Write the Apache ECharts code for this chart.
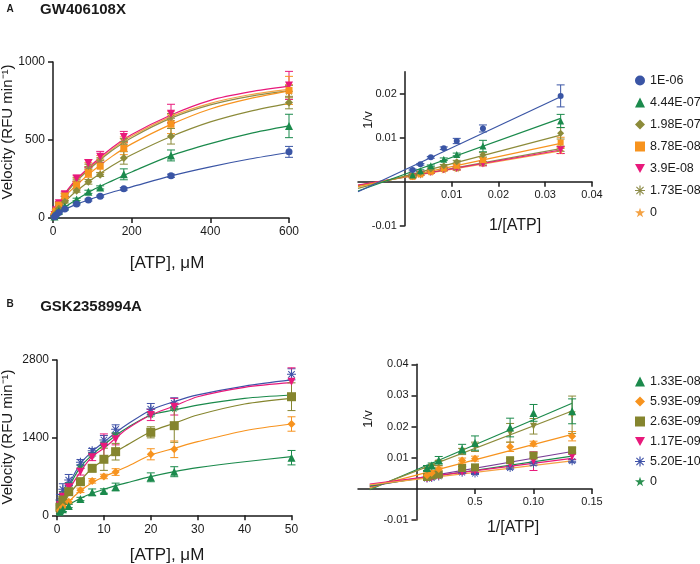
<!DOCTYPE html>
<html lang="en">
<head>
<meta charset="UTF-8">
<title>ATP kinetics</title>
<script src="https://cdn.jsdelivr.net/npm/echarts/dist/echarts.min.js"></script>
</head>
<body style="margin:0;background:#fff">
<div id="main" style="width:700px;height:564px;"></div>
<script type="text/javascript">
// ---------- panel A (GW406108X) ----------
var atpA = [3.75, 7.5, 15, 30, 60, 90, 120, 180, 300, 600];
var namesA = ['1E-06', '4.44E-07', '1.98E-07', '8.78E-08', '3.9E-08', '1.73E-08', '0'];
var velA1 = [8, 17, 36, 58, 90, 115, 140, 187, 271, 424];
var velA2 = [10, 22, 45, 72, 119, 168, 196, 280, 401, 590];
var velA3 = [12, 30, 60, 104, 175, 232, 278, 385, 524, 740];
var velA4 = [18, 45, 83, 141, 211, 286, 332, 446, 601, 818];
var velA5 = [20, 50, 94, 153, 254, 350, 392, 520, 669, 850];
var velA6 = [20, 48, 90, 148, 245, 330, 370, 490, 640, 810];
var velA7 = [20, 48, 90, 150, 250, 340, 385, 500, 655, 815];
var errA1 = [3, 3, 4, 5, 6, 6, 6, 8, 10, 35];
var errA2 = [4, 5, 5, 6, 8, 10, 10, 35, 35, 75];
var errA3 = [4, 5, 6, 8, 10, 15, 12, 40, 50, 40];
var errA4 = [5, 8, 12, 15, 20, 25, 40, 40, 60, 90];
var errA5 = [5, 8, 12, 15, 20, 25, 35, 35, 60, 90];
var errA6 = [5, 6, 8, 10, 12, 15, 15, 20, 30, 40];
var errA7 = [5, 6, 8, 10, 12, 15, 15, 20, 30, 40];
// fitted curves
var fitXA = [0, 10, 25, 50, 100, 150, 200, 300, 400, 500, 600];
var fitA1 = [0, 20, 48, 78, 125, 165, 200, 270, 328, 378, 420];
var fitA2 = [0, 26, 60, 103, 178, 238, 295, 400, 477, 541, 590];
var fitA3 = [0, 36, 88, 152, 250, 335, 405, 522, 616, 684, 735];
var fitA4 = [0, 50, 122, 188, 300, 395, 475, 600, 699, 765, 815];
var fitA5 = [0, 55, 135, 222, 345, 450, 535, 660, 754, 808, 845];
var fitA6 = [0, 53, 128, 210, 330, 432, 515, 640, 725, 780, 815];
var fitA7 = [0, 54, 130, 215, 337, 440, 525, 650, 735, 790, 825];
// double reciprocal
var lbXA = [0.00167, 0.00333, 0.00556, 0.00833, 0.0111, 0.0167, 0.0333];
var lbA1 = [0.00266, 0.00395, 0.00554, 0.0076, 0.00925, 0.0121, 0.0195];
var lbA2 = [0.0015, 0.0025, 0.0036, 0.0051, 0.0062, 0.0081, 0.0138];
var lbA3 = [0.0015, 0.0021, 0.0029, 0.0036, 0.00455, 0.0061, 0.011];
var lbA4 = [0.0011, 0.0017, 0.0023, 0.003, 0.0036, 0.0049, 0.0089];
var lbA5 = [0.0011, 0.0017, 0.0021, 0.0027, 0.003, 0.004, 0.0072];
var lbA6 = [0.0012, 0.0016, 0.0022, 0.0028, 0.003, 0.0042, 0.0075];
var lbA7 = [0.0011, 0.0016, 0.0021, 0.0026, 0.0029, 0.0041, 0.007];
var lbErrA1 = [0.0002, 0.0002, 0.0002, 0.0003, 0.0006, 0.0008, 0.0025];
var lbErrA2 = [0.0002, 0.0002, 0.0002, 0.0003, 0.0003, 0.0013, 0.0015];
var lbErrA3 = [0.0002, 0.0002, 0.0002, 0.0003, 0.0003, 0.0005, 0.0013];
var lbErrA4 = [0.0002, 0.0002, 0.0002, 0.0003, 0.0003, 0.0005, 0.0012];
var lbErrA5 = [0.0002, 0.0002, 0.0002, 0.0002, 0.0003, 0.0004, 0.0008];
var lbErrA6 = [0.0002, 0.0002, 0.0002, 0.0002, 0.0003, 0.0004, 0.0006];
var lbErrA7 = [0.0002, 0.0002, 0.0002, 0.0002, 0.0003, 0.0004, 0.0006];
var lbLineXA = [-0.01, 0.0333];
var lbLineA1 = [-0.0023, 0.0193];
var lbLineA2 = [-0.0021, 0.0144];
var lbLineA3 = [-0.0015, 0.0106];
var lbLineA4 = [-0.0011, 0.0087];
var lbLineA5 = [-0.00075, 0.0072];
var lbLineA6 = [-0.0009, 0.0075];
var lbLineA7 = [-0.0008, 0.0070];

// ---------- panel B (GSK2358994A) ----------
var atpB = [0.625, 1.25, 2.5, 5, 7.5, 10, 12.5, 20, 25, 50];
var namesB = ['1.33E-08', '5.93E-09', '2.63E-09', '1.17E-09', '5.20E-10', '0'];
var velB1 = [65, 108, 168, 294, 415, 438, 510, 685, 786, 1039];
var velB2 = [90, 150, 245, 450, 620, 700, 780, 1100, 1190, 1646];
var velB3 = [144, 276, 426, 606, 847, 1010, 1147, 1496, 1616, 2138];
var velB4 = [186, 335, 505, 786, 1046, 1237, 1370, 1808, 1958, 2409];
var velB5 = [276, 469, 636, 955, 1165, 1358, 1551, 1916, 2019, 2542];
var velB6 = [220, 400, 560, 880, 1100, 1290, 1460, 1820, 1930, 2150];
var errB1 = [30, 40, 30, 30, 60, 40, 70, 80, 90, 130];
var errB2 = [30, 40, 40, 40, 40, 40, 60, 100, 150, 130];
var errB3 = [40, 60, 60, 60, 60, 200, 150, 100, 300, 250];
var errB4 = [40, 60, 60, 60, 60, 230, 100, 100, 150, 250];
var errB5 = [100, 100, 100, 50, 40, 80, 80, 100, 100, 100];
var errB6 = [30, 30, 30, 30, 30, 30, 30, 30, 30, 30];
var fitXB = [0, 2.5, 5, 7.5, 10, 12.5, 15, 20, 25, 30, 40, 50];
var fitB1 = [0, 186, 307, 397, 469, 534, 590, 696, 786, 858, 966, 1057];
var fitB2 = [0, 245, 444, 588, 696, 786, 880, 1087, 1208, 1327, 1525, 1646];
var fitB3 = [0, 366, 624, 847, 997, 1147, 1270, 1507, 1659, 1808, 2007, 2109];
var fitB4 = [0, 444, 786, 1057, 1208, 1388, 1560, 1808, 1970, 2138, 2308, 2391];
var fitB5 = [0, 540, 930, 1150, 1320, 1490, 1640, 1900, 2050, 2170, 2330, 2440];
var fitB6 = [0, 500, 870, 1090, 1270, 1440, 1580, 1808, 1898, 1988, 2109, 2169];
var lbXB = [0.009, 0.013, 0.019, 0.039, 0.05, 0.08, 0.1, 0.133];
var lbB1 = [0.0067, 0.0075, 0.0092, 0.0128, 0.0147, 0.0197, 0.0244, 0.0249];
var lbB2 = [0.006, 0.007, 0.0083, 0.012, 0.0135, 0.018, 0.0201, 0.0238];
var lbB3 = [0.0044, 0.0051, 0.0064, 0.0091, 0.0097, 0.0135, 0.0145, 0.0169];
var lbB4 = [0.0038, 0.0043, 0.0046, 0.0067, 0.0069, 0.0092, 0.0107, 0.0124];
var lbB5 = [0.0032, 0.0035, 0.004, 0.0053, 0.0056, 0.0078, 0.0089, 0.0103];
var lbB6 = [0.0033, 0.0035, 0.004, 0.0052, 0.0049, 0.0067, 0.0081, 0.0089];
var lbErrB1 = [0.0008, 0.0008, 0.0012, 0.0015, 0.0023, 0.003, 0.0027, 0.004];
var lbErrB2 = [0.0005, 0.0005, 0.0008, 0.001, 0.0015, 0.003, 0.0025, 0.006];
var lbErrB3 = [0.0004, 0.0004, 0.0006, 0.0008, 0.0008, 0.0015, 0.0008, 0.0015];
var lbErrB4 = [0.0003, 0.0003, 0.0004, 0.0005, 0.0005, 0.0006, 0.0008, 0.0008];
var lbErrB5 = [0.0003, 0.0003, 0.0003, 0.0004, 0.0004, 0.0006, 0.003, 0.0008];
var lbErrB6 = [0.0003, 0.0003, 0.0003, 0.0003, 0.0003, 0.0004, 0.0005, 0.0005];
var lbLineXB = [-0.04, 0.133];
var lbLineB1 = [-0.0003, 0.0275];
var lbLineB2 = [0.0, 0.025];
var lbLineB3 = [0.0005, 0.0175];
var lbLineB4 = [0.0008, 0.012];
var lbLineB5 = [0.001, 0.0105];
var lbLineB6 = [0.0015, 0.0098];
var lbLineB7 = [0.0013, 0.009];

// tick labels
var lbTicksAx = [0.01, 0.02, 0.03, 0.04];
var lbLabelsAx = ['0.01', '0.02', '0.03', '0.04'];
var lbTicksAy = [-0.01, 0.01, 0.02];
var lbLabelsAy = ['-0.01', '0.01', '0.02'];
var lbTicksBx = [0.05, 0.10, 0.15];
var lbLabelsBx = ['0.5', '0.10', '0.15'];
var lbTicksBy = [-0.01, 0.01, 0.02, 0.03, 0.04];
var lbLabelsBy = ['-0.01', '0.01', '0.02', '0.03', '0.04'];

// ---------- styles ----------
var FONT = '"Liberation Sans", Arial, Helvetica, sans-serif';
var INK = '#1a1a1a';
var DOWN = 'path://M0,0L10,0L5,9Z';
var AST = 'path://M4.4,0H5.6V10H4.4Z M0,4.4H10V5.6H0Z M1,1.8L1.8,1L9,8.2L8.2,9Z M8.2,1L9,1.8L1.8,9L1,8.2Z';
var STAR = 'path://M5,0L6.2,3.6L10,3.6L6.9,5.9L8.1,9.5L5,7.3L1.9,9.5L3.1,5.9L0,3.6L3.8,3.6Z';
var colorsA = ['#3a55a5', '#1b8a4c', '#8c8b3a', '#f7931e', '#e8197b', '#8e8d4a', '#f4a244'];
var symbolsA = ['circle', 'triangle', 'diamond', 'rect', DOWN, AST, STAR];
var sizesA = [7, 8, 8, 7, 8, 8, 8];
var colorsB = ['#1b8a4c', '#f7931e', '#85852e', '#e8197b', '#3f52a8', '#2a9050'];
var symbolsB = ['triangle', 'diamond', 'rect', DOWN, AST, STAR];
var sizesB = [8, 8, 9, 8, 9, 8];
var lbLineColorsB = ['#1b8a4c', '#8c8b3a', '#f7931e', '#7a3d96', '#1b8a4c', '#e8197b', '#f4a244'];

function drawErr(params, api) {
    var x = api.value(0);
    var top = api.coord([x, api.value(2)]);
    var bot = api.coord([x, api.value(1)]);
    var w = 4;
    var st = { stroke: api.visual('color'), lineWidth: 1 };
    return {
        type: 'group',
        children: [
            { type: 'line', shape: { x1: top[0], y1: top[1], x2: bot[0], y2: bot[1] }, style: st },
            { type: 'line', shape: { x1: top[0] - w, y1: top[1], x2: top[0] + w, y2: top[1] }, style: st },
            { type: 'line', shape: { x1: bot[0] - w, y1: bot[1], x2: bot[0] + w, y2: bot[1] }, style: st }
        ]
    };
}

function pairs(xs, ys) {
    return xs.map(function (x, i) { return [x, ys[i]]; });
}

var series = [];
function addPoints(ax, name, color, symbol, size, xs, ys, errs) {
    series.push({
        type: 'custom', xAxisIndex: ax, yAxisIndex: ax, renderItem: drawErr, silent: true, z: 3,
        itemStyle: { color: color },
        data: xs.map(function (x, i) { return [x, ys[i] - errs[i], ys[i] + errs[i]]; })
    });
    var s = {
        type: 'scatter', xAxisIndex: ax, yAxisIndex: ax, symbol: symbol, symbolSize: size, z: 4,
        itemStyle: { color: color, opacity: 1 }, data: pairs(xs, ys)
    };
    if (name !== null) s.name = name;
    series.push(s);
}
function addLine(ax, color, xs, ys, smooth) {
    series.push({
        type: 'line', xAxisIndex: ax, yAxisIndex: ax, showSymbol: false, smooth: smooth, silent: true, z: 2,
        lineStyle: { color: color, width: 1.2 }, data: pairs(xs, ys)
    });
}

var velA = [velA1, velA2, velA3, velA4, velA5, velA6, velA7];
var errA = [errA1, errA2, errA3, errA4, errA5, errA6, errA7];
var fitA = [fitA1, fitA2, fitA3, fitA4, fitA5, fitA6, fitA7];
var lbA = [lbA1, lbA2, lbA3, lbA4, lbA5, lbA6, lbA7];
var lbErrA = [lbErrA1, lbErrA2, lbErrA3, lbErrA4, lbErrA5, lbErrA6, lbErrA7];
var lbLineA = [lbLineA1, lbLineA2, lbLineA3, lbLineA4, lbLineA5, lbLineA6, lbLineA7];
for (var i = 6; i >= 0; i--) {
    addLine(0, colorsA[i], fitXA, fitA[i], 0.3);
    addPoints(0, namesA[i], colorsA[i], symbolsA[i], sizesA[i], atpA, velA[i], errA[i]);
    addLine(1, colorsA[i], lbLineXA, lbLineA[i], false);
    addPoints(1, namesA[i], colorsA[i], symbolsA[i], sizesA[i] - 1, lbXA, lbA[i], lbErrA[i]);
}

var velB = [velB1, velB2, velB3, velB4, velB5, velB6];
var errB = [errB1, errB2, errB3, errB4, errB5, errB6];
var fitB = [fitB1, fitB2, fitB3, fitB4, fitB5, fitB6];
for (var j = 5; j >= 0; j--) {
    addLine(2, colorsB[j === 5 ? 0 : j], fitXB, fitB[j], 0.3);
    addPoints(2, namesB[j], colorsB[j], symbolsB[j], sizesB[j], atpB, velB[j], errB[j]);
}
var lbLineB = [lbLineB1, lbLineB2, lbLineB3, lbLineB4, lbLineB5, lbLineB6, lbLineB7];
for (var k = 0; k < lbLineB.length; k++) {
    addLine(3, lbLineColorsB[k], lbLineXB, lbLineB[k], false);
}
addPoints(3, namesB[4], colorsB[4], symbolsB[4], 8, lbXB, lbB6, lbErrB6);
addPoints(3, namesB[3], colorsB[3], symbolsB[3], 7, lbXB, lbB5, lbErrB5);
addPoints(3, namesB[2], colorsB[2], symbolsB[2], 8, lbXB, lbB4, lbErrB4);
addPoints(3, namesB[1], colorsB[1], symbolsB[1], 8, lbXB, lbB3, lbErrB3);
addPoints(3, null, '#8c8b3a', DOWN, 7, lbXB, lbB2, lbErrB2);
addPoints(3, namesB[0], colorsB[0], symbolsB[0], 8, lbXB, lbB1, lbErrB1);

function axisBase(extra) {
    var a = {
        type: 'value',
        splitLine: { show: false },
        axisLine: { show: true, onZero: false, lineStyle: { color: INK, width: 1.5 } },
        axisTick: { show: true, length: 5, lineStyle: { color: INK, width: 1.5 } },
        axisLabel: { color: INK, fontSize: 12, fontFamily: FONT, formatter: function (v) { return String(v); } }
    };
    for (var p in extra) a[p] = extra[p];
    return a;
}
// reciprocal plots: axes crossing at zero, moved there with a negative offset
function lbAxis(min, max, interval, offset, tickVals, labels, ticksAll) {
    return axisBase({
        min: min, max: max, interval: interval, offset: offset,
        axisTick: { show: true, length: 5, customValues: ticksAll, lineStyle: { color: INK, width: 1.5 } },
        axisLabel: {
            color: INK, fontSize: 11, fontFamily: FONT, customValues: tickVals,
            formatter: function (v) {
                for (var q = 0; q < tickVals.length; q++) {
                    if (Math.abs(tickVals[q] - v) < 1e-9) return labels[q];
                }
                return '';
            }
        }
    });
}

function legendFor(names, colors, symbols, top, gap) {
    return {
        orient: 'vertical', left: 630, top: top, itemWidth: 10, itemHeight: 10, itemGap: gap,
        selectedMode: false, textStyle: { color: INK, fontSize: 12.5, fontFamily: FONT },
        data: names.map(function (n, i) {
            return { name: n, icon: symbols[i], itemStyle: { color: colors[i] } };
        })
    };
}

function label(text, x, y, size, rotate, bold) {
    return {
        type: 'text', x: x, y: y, rotation: rotate ? Math.PI / 2 : 0,
        style: {
            text: text, fill: INK, font: (bold ? 'bold ' : '') + size + 'px ' + FONT,
            textAlign: 'center', textVerticalAlign: 'middle'
        }
    };
}

var option = {
    animation: false,
    backgroundColor: '#fff',
    textStyle: { fontFamily: FONT },
    grid: [
        { left: 53, top: 62, width: 236, height: 156 },
        { left: 358, top: 71.7, width: 234, height: 154 },
        { left: 57, top: 360, width: 234.5, height: 155.3 },
        { left: 358, top: 364.3, width: 234, height: 155.7 }
    ],
    xAxis: [
        axisBase({ min: 0, max: 600, interval: 200 }),
        lbAxis(-0.01, 0.04, 0.01, -44, lbTicksAx, lbLabelsAx, lbTicksAx),
        axisBase({ min: 0, max: 50, interval: 10 }),
        lbAxis(-0.05, 0.15, 0.05, -31.1, lbTicksBx, lbLabelsBx, lbTicksBx)
    ],
    yAxis: [
        axisBase({ min: 0, max: 1000, interval: 500 }),
        lbAxis(-0.01, 0.025, 0.01, -46.8, lbTicksAy, lbLabelsAy, [-0.01, 0.01, 0.02]),
        axisBase({ min: 0, max: 2800, interval: 1400 }),
        lbAxis(-0.01, 0.04, 0.01, -58.5, lbTicksBy, lbLabelsBy, [-0.01, 0.01, 0.02, 0.03, 0.04])
    ],
    legend: [
        legendFor(namesA, colorsA, symbolsA, 69, 9),
        legendFor(namesB, colorsB, symbolsB, 370, 7)
    ],
    graphic: [
        label('A', 10, 9.5, 10, false, true),
        label('GW406108X', 83, 9.5, 15, false, true),
        label('B', 10, 304, 10, false, true),
        label('GSK2358994A', 91, 306.5, 15, false, true),
        label('Velocity (RFU min\u207B\u00B9)', 8, 132, 15, true),
        label('Velocity (RFU min\u207B\u00B9)', 8, 437, 15, true),
        label('[ATP], \u03BCM', 167, 263, 17),
        label('[ATP], \u03BCM', 167, 555, 17),
        label('1/[ATP]', 515, 226, 16),
        label('1/[ATP]', 513, 528, 16),
        label('1/v', 368, 120, 13, true),
        label('1/v', 368, 419, 13, true)
    ],
    series: series
};
for (var g = 0; g < 4; g++) {
    option.xAxis[g].gridIndex = g;
    option.yAxis[g].gridIndex = g;
}

var chart = echarts.init(document.getElementById('main'));
chart.setOption(option);
</script>
</body>
</html>
